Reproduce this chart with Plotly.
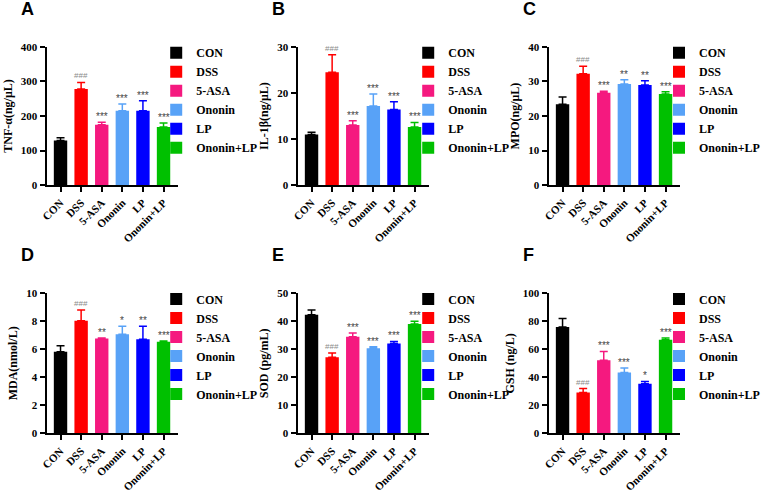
import plotly.graph_objects as go

groups = ["CON", "DSS", "5-ASA", "Ononin", "LP", "Ononin+LP"]
colors = ["#000000", "#FF0000", "#F5197F", "#58A2F7", "#0000FF", "#00C000"]

tnf_mean = [129, 278, 175, 215, 215, 168]
tnf_err = [8, 19, 7, 20, 29, 12]
il1b_mean = [11.0, 24.5, 13.05, 17.2, 16.4, 12.6]
il1b_err = [0.5, 3.8, 0.9, 2.6, 1.7, 1.0]
mpo_mean = [23.4, 32.2, 26.7, 29.25, 29.0, 26.35]
mpo_err = [2.1, 2.2, 0.5, 1.25, 1.2, 0.65]
mda_mean = [5.82, 8.04, 6.77, 7.07, 6.72, 6.54]
mda_err = [0.44, 0.76, 0.04, 0.57, 0.92, 0.06]
sod_mean = [42.3, 27.2, 34.45, 30.4, 32.1, 39.05]
sod_err = [1.7, 1.5, 1.35, 0.5, 0.7, 0.95]
gsh_mean = [75.9, 29.2, 52.2, 43.4, 35.5, 66.8]
gsh_err = [6.0, 2.8, 6.3, 3.2, 1.6, 1.2]

sig_tnf = ["", "###", "***", "***", "***", "***"]
sig_il1b = ["", "###", "***", "***", "***", "***"]
sig_mpo = ["", "###", "***", "**", "**", "***"]
sig_mda = ["", "###", "**", "*", "**", "***"]
sig_sod = ["", "###", "***", "***", "***", "***"]
sig_gsh = ["", "###", "***", "***", "*", "***"]

panels = [
    ("A", "TNF-α(ng/μL)", 400, 100, tnf_mean, tnf_err, sig_tnf),
    ("B", "IL-1β(ng/μL)", 30, 10, il1b_mean, il1b_err, sig_il1b),
    ("C", "MPO(ng/μL)", 40, 10, mpo_mean, mpo_err, sig_mpo),
    ("D", "MDA(nmol/L)", 10, 2, mda_mean, mda_err, sig_mda),
    ("E", "SOD (pg/mL)", 50, 10, sod_mean, sod_err, sig_sod),
    ("F", "GSH (ng/L)", 100, 20, gsh_mean, gsh_err, sig_gsh),
]

W, H = 765, 493
serif = "Times New Roman, Liberation Serif, serif"
sans = "Arial, Liberation Sans, sans-serif"

# pixel geometry of each panel: (axis left x, top y, bottom y)
xlefts = [41, 295, 549]
rows = [(42, 184), (295, 439)]
plot_w = 133
legend_x = [152, 407, 661]

fig = go.Figure()
layout = dict(width=W, height=H, margin=dict(l=0, r=0, t=0, b=0),
              paper_bgcolor="white", plot_bgcolor="white",
              barmode="overlay", showlegend=True, annotations=[])

for i, (letter, ytitle, ymax, dt, means, errs, sigs) in enumerate(panels):
    r, c = divmod(i, 3)
    n = "" if i == 0 else str(i + 1)
    xa, ya = "x" + n, "y" + n
    leg = "legend" + n
    top, bot = rows[r]
    x0 = xlefts[c]
    for g, col, m, e in zip(groups, colors, means, errs):
        fig.add_trace(go.Bar(
            x=[g], y=[m], name=g, xaxis=xa, yaxis=ya, legend=leg,
            marker=dict(color=col, line=dict(width=0)), width=0.65,
            error_y=dict(type="data", array=[e], arrayminus=[0], symmetric=False,
                         color=col, thickness=1.5, width=4),
        ))
    for g, m, e, s in zip(groups, means, errs, sigs):
        if s:
            is_hash = s.startswith("#")
            layout["annotations"].append(dict(
                x=g, y=m + e, xref=xa, yref=ya, text=s, showarrow=False,
                yanchor="bottom", yshift=(0 if is_hash else -2),
                font=dict(family=sans, size=(8 if is_hash else 10),
                          color=("#8a8a8a" if is_hash else "#444444"))))
    layout["xaxis" + n] = dict(
        domain=[x0 / W, (x0 + plot_w) / W], anchor=ya,
        range=[-0.68, 5.7], categoryorder="array", categoryarray=groups,
        showline=True, linecolor="black", linewidth=2, ticks="outside",
        ticklen=5, tickwidth=2, tickcolor="black", tickangle=-45,
        tickfont=dict(family=serif, size=11, color="black", weight="bold"),
        showgrid=False, zeroline=False)
    layout["yaxis" + n] = dict(
        domain=[(H - bot) / H, (H - top) / H], anchor=xa,
        range=[0, ymax], dtick=dt, tick0=0,
        showline=True, linecolor="black", linewidth=2, ticks="outside",
        ticklen=5, tickwidth=2, tickcolor="black",
        tickfont=dict(family=serif, size=11, color="black", weight="bold"),
        title=dict(text=ytitle, font=dict(family=serif, size=12, color="black", weight="bold"), standoff=6),
        showgrid=False, zeroline=False)
    layout[leg] = dict(
        x=legend_x[c] / W, y=(H - top + 9) / H, xanchor="left", yanchor="top",
        bgcolor="rgba(0,0,0,0)", borderwidth=0,
        font=dict(family=serif, size=12, color="black", weight="bold"))
    layout["annotations"].append(dict(
        x=(x0 - 28) / W, y=(H - top + 39) / H, xref="paper", yref="paper",
        text=letter, showarrow=False, xanchor="left", yanchor="middle",
        font=dict(family=sans, size=18, color="black", weight="bold")))

fig.update_layout(**layout)
fig.write_html("out.html")
